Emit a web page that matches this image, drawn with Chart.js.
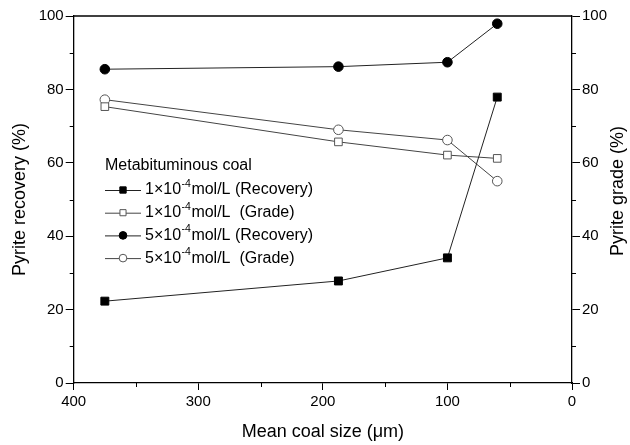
<!DOCTYPE html>
<html>
<head>
<meta charset="utf-8">
<script src="https://cdn.jsdelivr.net/npm/chart.js@4/dist/chart.umd.min.js"></script>
<style>
  html, body { margin: 0; padding: 0; background: #fff; }
  canvas { display: block; }
</style>
</head>
<body>
<canvas id="chart" width="630" height="445"></canvas>
<script>
// Mean coal size (µm) for each test
const coalSizes = [375, 187.5, 100, 60];

// Pyrite recovery and grade (%) at two collector dosages
const recoveryLow  = [22.3, 27.8, 34.1, 77.9];
const gradeLow     = [75.3, 65.7, 62.1, 61.2];
const recoveryHigh = [85.5, 86.2, 87.4, 97.9];
const gradeHigh    = [77.2, 69.0, 66.2, 55.0];

// Legend text pieces: prefix, superscript exponent, suffix
const legendTitle = 'Metabituminous coal';
const legendPrefix = ['1\u00d710', '1\u00d710', '5\u00d710', '5\u00d710'];
const legendExponent = '-4';
const legendSuffix = ['mol/L (Recovery)', 'mol/L  (Grade)', 'mol/L (Recovery)', 'mol/L  (Grade)'];

// Axis titles and tick values
const xTitle = 'Mean coal size (\u03bcm)';
const yTitle = 'Pyrite recovery (%)';
const y2Title = 'Pyrite grade (%)';
const xMajorStep = 100;
const yMajorStep = 20;
const xMinorTicks = [50, 150, 250, 350];
const yMinorTicks = [10, 30, 50, 70, 90];

const FONT = "'Liberation Sans', Arimo, Arial, sans-serif";
Chart.defaults.font.family = FONT;
Chart.defaults.color = '#000';

const toPoints = (ys) => coalSizes.map((x, i) => ({ x, y: ys[i] }));

const lineStyle = { borderColor: '#222', borderWidth: 1, tension: 0, pointHoverRadius: 5 };

const datasets = [
  { ...lineStyle, data: toPoints(recoveryLow), yAxisID: 'y',
    pointStyle: 'rect', pointRadius: 5.6, pointBackgroundColor: '#000', pointBorderColor: '#000', pointBorderWidth: 1 },
  { ...lineStyle, data: toPoints(gradeLow), yAxisID: 'y2', borderColor: '#444',
    pointStyle: 'rect', pointRadius: 5.4, pointBackgroundColor: '#fff', pointBorderColor: '#555', pointBorderWidth: 1 },
  { ...lineStyle, data: toPoints(recoveryHigh), yAxisID: 'y',
    pointStyle: 'circle', pointRadius: 4.8, pointBackgroundColor: '#000', pointBorderColor: '#000', pointBorderWidth: 1 },
  { ...lineStyle, data: toPoints(gradeHigh), yAxisID: 'y2', borderColor: '#444',
    pointStyle: 'circle', pointRadius: 4.8, pointBackgroundColor: '#fff', pointBorderColor: '#555', pointBorderWidth: 1 }
];

// Top frame edge, short minor ticks, and the right-hand axis title read bottom-to-top
const frameAndMinorTicks = {
  id: 'frameAndMinorTicks',
  afterDraw(chart) {
    const { ctx, chartArea: a, scales } = chart;
    ctx.save();
    ctx.strokeStyle = '#000';
    ctx.lineWidth = 1.3;
    ctx.beginPath();
    ctx.moveTo(a.left, a.top);
    ctx.lineTo(a.right, a.top);
    ctx.stroke();
    ctx.lineWidth = 1;
    ctx.beginPath();
    xMinorTicks.forEach(v => {
      const px = Math.round(scales.x.getPixelForValue(v)) + 0.5;
      ctx.moveTo(px, a.bottom);
      ctx.lineTo(px, a.bottom + 4);
    });
    yMinorTicks.forEach(v => {
      const py = Math.round(scales.y.getPixelForValue(v)) + 0.5;
      ctx.moveTo(a.left, py);
      ctx.lineTo(a.left - 4, py);
      const py2 = Math.round(scales.y2.getPixelForValue(v)) + 0.5;
      ctx.moveTo(a.right, py2);
      ctx.lineTo(a.right + 4, py2);
    });
    ctx.stroke();

    ctx.translate(618, 191);
    ctx.rotate(-Math.PI / 2);
    ctx.fillStyle = '#000';
    ctx.font = `18px ${FONT}`;
    ctx.textAlign = 'center';
    ctx.textBaseline = 'middle';
    ctx.fillText(y2Title, 0, 0);
    ctx.restore();
  }
};

// Legend box with superscript exponents, drawn inside the plot area
const exponentLegend = {
  id: 'exponentLegend',
  afterDatasetsDraw(chart) {
    const { ctx } = chart;
    const x0 = 105, lineLen = 36, textX = 145;
    const titleY = 166, rowY0 = 190, rowStep = 22.7;
    ctx.save();
    ctx.fillStyle = '#000';
    ctx.textBaseline = 'middle';
    ctx.textAlign = 'left';
    ctx.font = `16px ${FONT}`;
    ctx.fillText(legendTitle, x0, titleY);
    chart.data.datasets.forEach((ds, i) => {
      const y = rowY0 + i * rowStep;
      ctx.strokeStyle = ds.borderColor;
      ctx.lineWidth = 1;
      ctx.beginPath();
      ctx.moveTo(x0, y + 0.5);
      ctx.lineTo(x0 + lineLen, y + 0.5);
      ctx.stroke();

      ctx.fillStyle = ds.pointBackgroundColor;
      ctx.strokeStyle = ds.pointBorderColor;
      ctx.beginPath();
      const r = ds.pointRadius * 0.8;
      if (ds.pointStyle === 'rect') {
        const s = r * Math.SQRT1_2;
        ctx.rect(x0 + lineLen / 2 - s, y - s, 2 * s, 2 * s);
      } else {
        ctx.arc(x0 + lineLen / 2, y, r, 0, Math.PI * 2);
      }
      ctx.fill();
      ctx.stroke();

      ctx.fillStyle = '#000';
      ctx.font = `16px ${FONT}`;
      let tx = textX;
      ctx.fillText(legendPrefix[i], tx, y);
      tx += ctx.measureText(legendPrefix[i]).width + 0.5;
      ctx.font = `10.5px ${FONT}`;
      ctx.fillText(legendExponent, tx, y - 6);
      tx += ctx.measureText(legendExponent).width + 0.5;
      ctx.font = `16px ${FONT}`;
      ctx.fillText(legendSuffix[i], tx, y);
    });
    ctx.restore();
  }
};

new Chart(document.getElementById('chart'), {
  type: 'line',
  data: { datasets },
  plugins: [frameAndMinorTicks, exponentLegend],
  options: {
    responsive: false,
    animation: false,
    layout: { padding: { top: 16, left: 0, right: 0, bottom: 0 } },
    plugins: { legend: { display: false }, tooltip: { enabled: false } },
    scales: {
      x: {
        type: 'linear',
        reverse: true,
        min: 0,
        max: 400,
        ticks: { stepSize: xMajorStep, font: { size: 15 }, padding: 3, color: '#000', maxRotation: 0 },
        grid: { drawOnChartArea: false, drawTicks: true, tickLength: 7, color: '#000', lineWidth: 1 },
        border: { display: true, color: '#000', width: 1.3 },
        title: { display: true, text: xTitle, font: { size: 18 }, color: '#000', padding: { top: 0, bottom: 2 } },
        afterFit(scale) { scale.height = 62; }
      },
      y: {
        type: 'linear',
        position: 'left',
        min: 0,
        max: 100,
        ticks: { stepSize: yMajorStep, font: { size: 15 }, padding: 2, color: '#000' },
        grid: { drawOnChartArea: false, drawTicks: true, tickLength: 8, color: '#000', lineWidth: 1 },
        border: { display: true, color: '#000', width: 1.3 },
        title: { display: true, text: yTitle, font: { size: 18 }, color: '#000', padding: { top: 9, bottom: 0 } },
        afterFit(scale) { scale.width = 73.7; }
      },
      y2: {
        type: 'linear',
        position: 'right',
        min: 0,
        max: 100,
        ticks: { stepSize: yMajorStep, font: { size: 15 }, padding: 2, color: '#000' },
        grid: { drawOnChartArea: false, drawTicks: true, tickLength: 8, color: '#000', lineWidth: 1 },
        border: { display: true, color: '#000', width: 1.3 },
        title: { display: false },
        afterFit(scale) { scale.width = 58; }
      }
    }
  }
});
</script>
</body>
</html>
